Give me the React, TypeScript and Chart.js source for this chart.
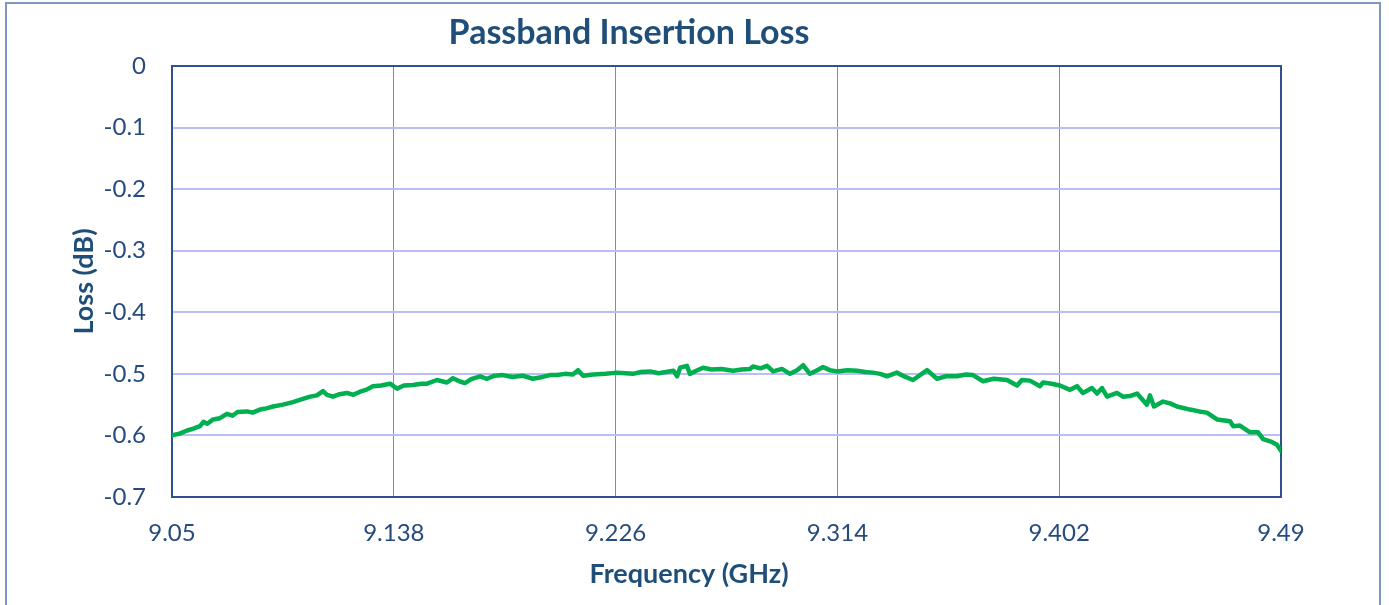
import React, { useEffect, useRef } from "react";
import { Chart, registerables } from "chart.js";

Chart.register(...registerables);

const chartTitle = "Passband Insertion Loss";
const xAxisTitle = "Frequency (GHz)";
const yAxisTitle = "Loss (dB)";

const xTickValues = [9.05, 9.138, 9.226, 9.314, 9.402, 9.49];
const yTickValues = [0, -0.1, -0.2, -0.3, -0.4, -0.5, -0.6, -0.7];

const frequencyGHz = [
  9.05, 9.053, 9.056, 9.0585, 9.0611, 9.0625, 9.064, 9.0663, 9.069, 9.0718,
  9.074, 9.076, 9.0798, 9.082, 9.0849, 9.0875, 9.0901, 9.094, 9.098, 9.101,
  9.1048, 9.1075, 9.1099, 9.1115, 9.1139, 9.1165, 9.1194, 9.122, 9.1246, 9.127,
  9.1297, 9.133, 9.1365, 9.1393, 9.142, 9.1456, 9.149, 9.1512, 9.1551, 9.1591,
  9.1615, 9.164, 9.1662, 9.169, 9.1722, 9.175, 9.178, 9.1813, 9.185, 9.189,
  9.1932, 9.197, 9.2, 9.2028, 9.206, 9.209, 9.2111, 9.2131, 9.217, 9.222,
  9.2266, 9.23, 9.2329, 9.236, 9.2397, 9.243, 9.246, 9.249, 9.2504, 9.2516,
  9.2543, 9.2555, 9.258, 9.2607, 9.264, 9.268, 9.2726, 9.276, 9.2793, 9.2805,
  9.2835, 9.2861, 9.2885, 9.292, 9.2952, 9.298, 9.3004, 9.3031, 9.306, 9.3083,
  9.311, 9.3138, 9.318, 9.3218, 9.325, 9.3281, 9.331, 9.3337, 9.3376, 9.341,
  9.344, 9.3496, 9.3535, 9.357, 9.3614, 9.365, 9.3678, 9.3718, 9.376, 9.3813,
  9.3853, 9.3872, 9.3904, 9.3944, 9.3956, 9.399, 9.4023, 9.4063, 9.4091, 9.4114,
  9.415, 9.417, 9.419, 9.421, 9.4249, 9.4273, 9.43, 9.4329, 9.4368, 9.438,
  9.4396, 9.4432, 9.446, 9.4487, 9.4539, 9.4575, 9.4606, 9.4646, 9.4698, 9.471,
  9.4737, 9.4777, 9.4809, 9.4829, 9.486, 9.4884, 9.49,
];

const lossDb = [
  -0.6, -0.597, -0.592, -0.589, -0.585, -0.578, -0.581, -0.574, -0.572, -0.565,
  -0.568, -0.562, -0.561, -0.563, -0.558, -0.556, -0.553, -0.55, -0.546, -0.542,
  -0.537, -0.535, -0.528, -0.534, -0.537, -0.533, -0.531, -0.534, -0.529, -0.526,
  -0.52, -0.519, -0.516, -0.524, -0.519, -0.518, -0.516, -0.516, -0.51, -0.514,
  -0.507, -0.512, -0.515, -0.508, -0.504, -0.508, -0.503, -0.502, -0.505, -0.503,
  -0.508, -0.505, -0.502, -0.502, -0.5, -0.501, -0.494, -0.503, -0.501, -0.5,
  -0.498, -0.499, -0.5, -0.497, -0.496, -0.499, -0.497, -0.495, -0.504, -0.49,
  -0.487, -0.5, -0.495, -0.49, -0.493, -0.492, -0.495, -0.493, -0.492, -0.488,
  -0.491, -0.487, -0.496, -0.492, -0.5, -0.494, -0.486, -0.5, -0.494, -0.489,
  -0.494, -0.496, -0.494, -0.495, -0.497, -0.498, -0.5, -0.504, -0.498, -0.505,
  -0.51, -0.494, -0.508, -0.504, -0.504, -0.501, -0.502, -0.512, -0.508, -0.51,
  -0.519, -0.51, -0.511, -0.52, -0.514, -0.516, -0.519, -0.526, -0.52, -0.531,
  -0.523, -0.532, -0.523, -0.537, -0.531, -0.537, -0.536, -0.532, -0.55, -0.535,
  -0.553, -0.545, -0.548, -0.553, -0.558, -0.561, -0.563, -0.574, -0.577, -0.585,
  -0.584, -0.595, -0.595, -0.606, -0.61, -0.615, -0.625,
];

const FONT = "Lato, 'Open Sans', sans-serif";
const TEXT_BLUE = "#1F4E79";
const TICK_BLUE = "#264B7E";

const framePlugin = {
  id: "plotFrameAndTexts",
  beforeDatasetsDraw(chart: any) {
    const { ctx, chartArea } = chart;
    ctx.save();
    ctx.strokeStyle = "#2F528F";
    ctx.lineWidth = 2;
    ctx.strokeRect(
      chartArea.left,
      chartArea.top,
      chartArea.right - chartArea.left,
      chartArea.bottom - chartArea.top
    );
    ctx.restore();
  },
  afterDraw(chart: any) {
    const { ctx } = chart;
    ctx.save();
    ctx.fillStyle = TEXT_BLUE;
    ctx.textAlign = "center";
    ctx.textBaseline = "middle";
    ctx.font = `bold 34px ${FONT}`;
    ctx.fillText(chartTitle, 629, 33);
    ctx.font = `bold 27px ${FONT}`;
    ctx.fillText(xAxisTitle, 689, 574);
    ctx.restore();
  },
};

export default function App() {
  const canvasRef = useRef<HTMLCanvasElement | null>(null);

  useEffect(() => {
    if (!canvasRef.current) return;
    const points = frequencyGHz.map((f, i) => ({ x: f, y: lossDb[i] }));
    const chart = new Chart(canvasRef.current, {
      type: "line",
      data: {
        datasets: [
          {
            label: "Insertion Loss",
            data: points,
            borderColor: "#00B050",
            borderWidth: 4.5,
            borderJoinStyle: "round",
            borderCapStyle: "round",
            pointRadius: 0,
            tension: 0,
            fill: false,
          },
        ],
      },
      options: {
        animation: false,
        responsive: false,
        devicePixelRatio: 1,
        layout: { padding: { top: 66, right: 108, left: 0, bottom: 0 } },
        plugins: {
          legend: { display: false },
          title: { display: false },
          tooltip: { enabled: false },
        },
        scales: {
          x: {
            type: "linear",
            min: 9.05,
            max: 9.49,
            afterBuildTicks: (scale: any) => {
              scale.ticks = xTickValues.map((value) => ({ value }));
            },
            afterFit: (scale: any) => {
              scale.height = 108;
            },
            grid: { color: "#8C8C8C", lineWidth: 1, drawTicks: false },
            border: { display: false },
            ticks: {
              padding: 22,
              autoSkip: false,
              maxRotation: 0,
              color: TICK_BLUE,
              font: { family: FONT, size: 24 },
              callback: (v: any) => String(v),
            },
          },
          y: {
            type: "linear",
            min: -0.7,
            max: 0,
            afterBuildTicks: (scale: any) => {
              scale.ticks = yTickValues.map((value) => ({ value }));
            },
            afterFit: (scale: any) => {
              scale.width = 172;
            },
            grid: { color: "#BCBCF6", lineWidth: 2, drawTicks: false },
            border: { display: false },
            ticks: {
              padding: 26,
              color: TICK_BLUE,
              font: { family: FONT, size: 24 },
              callback: (v: any) => String(v),
            },
            title: {
              display: true,
              text: yAxisTitle,
              color: TEXT_BLUE,
              font: { family: FONT, size: 27, weight: "bold" },
              padding: { top: 68, bottom: 0 },
            },
          },
        },
      },
      plugins: [framePlugin],
    });
    return () => chart.destroy();
  }, []);

  return (
    <div
      style={{
        position: "absolute",
        left: 0,
        top: 0,
        width: 1389,
        height: 605,
        overflow: "hidden",
        background: "#FFFFFF",
      }}
    >
      <div
        style={{
          position: "absolute",
          left: 5,
          top: 2,
          width: 1376,
          height: 700,
          boxSizing: "border-box",
          border: "2px solid #7F97C0",
        }}
      />
      <canvas
        ref={canvasRef}
        width={1389}
        height={605}
        style={{ position: "absolute", left: 0, top: 0, width: 1389, height: 605 }}
      />
    </div>
  );
}
